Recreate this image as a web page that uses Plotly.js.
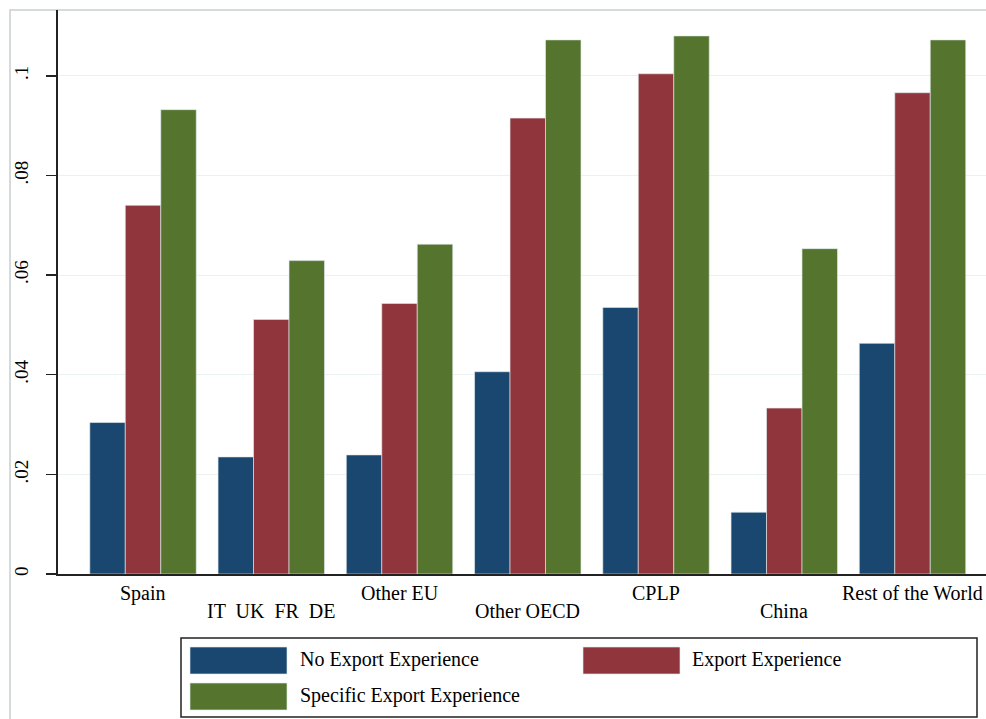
<!DOCTYPE html>
<html>
<head>
<meta charset="utf-8">
<script src="https://cdn.plot.ly/plotly-3.0.1.min.js"></script>
<style>
html,body{margin:0;padding:0;background:#fff;}
#chart{width:986px;height:719px;}
</style>
</head>
<body>
<div id="chart"></div>
<script>
// ---- data ----
const categories = ["Spain", "IT  UK  FR  DE", "Other EU", "Other OECD", "CPLP", "China", "Rest of the World"];
const noExport = [0.0304, 0.0235, 0.0239, 0.0406, 0.0535, 0.0124, 0.0463];
const exportExp = [0.0740, 0.0511, 0.0543, 0.0915, 0.1004, 0.0333, 0.0966];
const specificExp = [0.0932, 0.0629, 0.0662, 0.1072, 0.1080, 0.0653, 0.1072];
const seriesNames = ["No Export Experience", "Export Experience", "Specific Export Experience"];
const yTickVals = [0, 0.02, 0.04, 0.06, 0.08, 0.1];
const yTickText = ["0", ".02", ".04", ".06", ".08", ".1"];

const colors = ["#1a476f", "#90353b", "#55752f"];
const FONT = "Liberation Serif, Times New Roman, serif";

// geometry helpers (pixel -> paper)
const L = 58, T = 10, B = 574, W = 986, H = 719;
const PW = W - L, PH = B - T;
const px = v => (v - L) / PW;
const py = v => (B - v) / PH;

const idx = categories.map((c, i) => i);
const allSeries = [noExport, exportExp, specificExp];
const traces = allSeries.map((vals, k) => ({
  type: "bar",
  x: idx,
  y: vals,
  name: seriesNames[k],
  marker: { color: colors[k], line: { color: "rgba(225,235,238,0.9)", width: 0.7 } },
  hoverinfo: "y"
}));

// staggered category labels
const annotations = categories.map((c, i) => ({
  x: i, xref: "x", y: 0, yref: "paper",
  yanchor: "middle", xanchor: "center",
  yshift: (i % 2 === 0) ? -19 : -37,
  text: c, showarrow: false,
  font: { family: FONT, size: 20, color: "#000" }
}));

// custom legend
const legendItems = [
  { k: 0, sx: 190, sy: 647, tx: 298 },
  { k: 1, sx: 583, sy: 647, tx: 690 },
  { k: 2, sx: 190, sy: 683, tx: 298 }
];
const shapes = [
  // outer graph frame
  { type: "rect", xref: "paper", yref: "paper",
    x0: px(10), x1: px(1000), y0: py(10), y1: py(740),
    line: { color: "#c8cfd2", width: 1.5 }, fillcolor: "rgba(0,0,0,0)", layer: "below" },
  // legend box
  { type: "rect", xref: "paper", yref: "paper",
    x0: px(181), x1: px(977), y0: py(638), y1: py(717),
    line: { color: "#222", width: 1.5 }, fillcolor: "rgba(0,0,0,0)" }
];
legendItems.forEach(it => {
  shapes.push({ type: "rect", xref: "paper", yref: "paper",
    x0: px(it.sx), x1: px(it.sx + 97), y0: py(it.sy), y1: py(it.sy + 27),
    line: { color: "rgba(225,235,238,0.9)", width: 0.7 }, fillcolor: colors[it.k] });
  annotations.push({ xref: "paper", yref: "paper",
    x: px(it.tx), y: py(it.sy + 12), xanchor: "left", yanchor: "middle",
    text: seriesNames[it.k], showarrow: false,
    font: { family: FONT, size: 20, color: "#000" } });
});

const layout = {
  width: W, height: H,
  margin: { l: L, r: W - L - PW, t: T, b: H - B, pad: 0 },
  paper_bgcolor: "#fff", plot_bgcolor: "#fff",
  showlegend: false,
  barmode: "group", bargap: 0.17, bargroupgap: 0,
  font: { family: FONT, color: "#000" },
  xaxis: {
    range: [-0.663, 6.573], showticklabels: false, ticks: "",
    showgrid: false, zeroline: false,
    showline: true, linecolor: "#222", linewidth: 1.5, fixedrange: true
  },
  yaxis: {
    range: [0, 0.1132], tickvals: yTickVals, ticktext: yTickText,
    tickangle: -90, ticks: "outside", ticklen: 10, tickwidth: 1.5, tickcolor: "#222",
    ticklabelstandoff: 10,
    tickfont: { family: FONT, size: 19, color: "#000" },
    showgrid: true, gridcolor: "#e9f1f3", gridwidth: 1,
    zeroline: false, showline: true, linecolor: "#222", linewidth: 2, fixedrange: true
  },
  annotations: annotations,
  shapes: shapes
};

Plotly.newPlot("chart", traces, layout, { displayModeBar: false, staticPlot: true });
</script>
</body>
</html>
